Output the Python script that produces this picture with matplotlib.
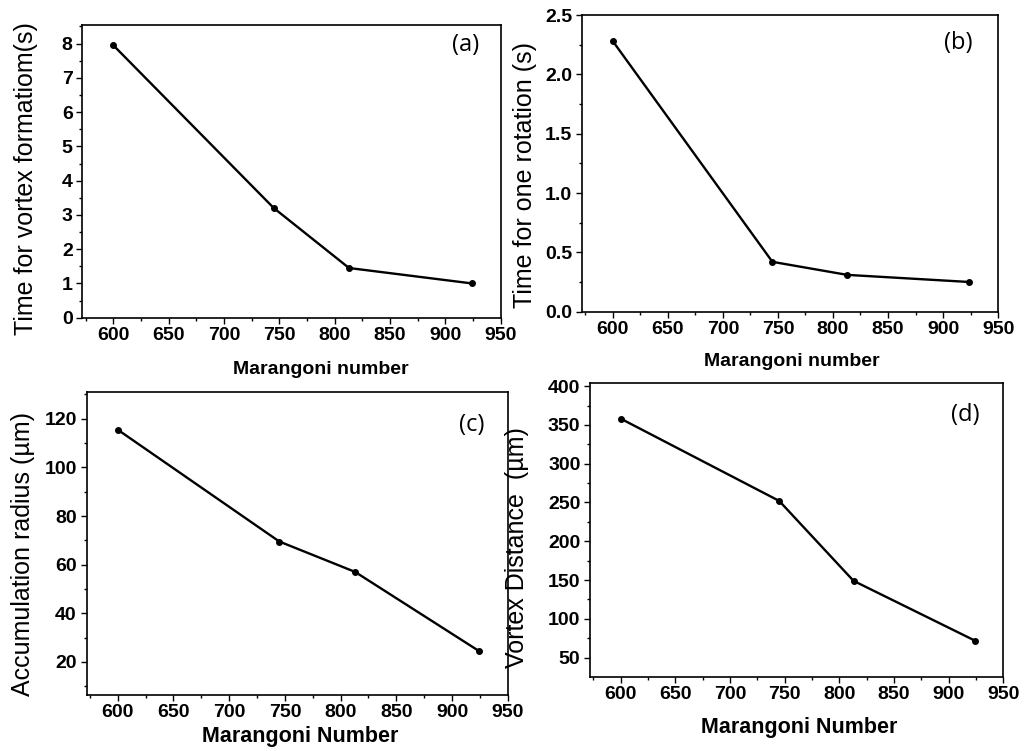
import matplotlib
matplotlib.use('Agg')
import matplotlib.pyplot as plt
from matplotlib.ticker import MultipleLocator, AutoMinorLocator

# Marangoni numbers (shared x values)
marangoni = [600, 745, 813, 924]

# (a) time for vortex formation (s)
t_vortex = [7.95, 3.2, 1.45, 1.0]
# (b) time for one rotation (s)
t_rotation = [2.28, 0.42, 0.31, 0.25]
# (c) accumulation radius (um)
acc_radius = [115.5, 69.5, 57.0, 24.5]
# (d) vortex distance (um)
vortex_dist = [358, 252, 149, 72]

plt.rcParams['font.family'] = ['Liberation Sans', 'DejaVu Sans']

fig = plt.figure(figsize=(10.3, 7.51), dpi=100)

panels = [
    dict(rect=[0.080, 0.577, 0.406, 0.390], y=t_vortex, ylim=(0, 8.55), ystep=1, fmt='{:.0f}',
         ylabel='Time for vortex formatiom(s)', xlabel='Marangoni number', tag='(a)',
         tagpos=(0.916, 0.93), xfs=14, xlpos=(0.569, -0.177), ylpos=(-0.136, 0.474)),
    dict(rect=[0.565, 0.585, 0.404, 0.395], y=t_rotation, ylim=(0, 2.5), ystep=0.5, fmt='{:.1f}',
         ylabel='Time for one rotation (s)', xlabel='Marangoni number', tag='(b)',
         tagpos=(0.904, 0.906), xfs=14, xlpos=(0.505, -0.168), ylpos=(-0.137, 0.461)),
    dict(rect=[0.084, 0.075, 0.409, 0.403], y=acc_radius, ylim=(6.5, 131), ystep=20, fmt='{:.0f}',
         ylabel='Accumulation radius (\u00b5m)', xlabel='Marangoni Number', tag='(c)',
         tagpos=(0.914, 0.89), xfs=15.5, xlpos=(0.507, -0.139), ylpos=(-0.150, 0.465)),
    dict(rect=[0.573, 0.099, 0.401, 0.391], y=vortex_dist, ylim=(25.5, 404), ystep=50, fmt='{:.0f}',
         ylabel='Vortex Distance  (\u00b5m)', xlabel='Marangoni Number', tag='(d)',
         tagpos=(0.908, 0.89), xfs=15.5, xlpos=(0.505, -0.173), ylpos=(-0.177, 0.439)),
]

for p in panels:
    ax = fig.add_axes(p['rect'])
    ax.plot(marangoni, p['y'], color='black', lw=1.7, marker='o', ms=4)
    ax.set_xlim(572, 950)
    ax.set_ylim(*p['ylim'])
    ax.xaxis.set_major_locator(MultipleLocator(50))
    ax.yaxis.set_major_locator(MultipleLocator(p['ystep']))
    ax.xaxis.set_minor_locator(AutoMinorLocator(2))
    ax.yaxis.set_minor_locator(AutoMinorLocator(2))
    ax.yaxis.set_major_formatter(plt.FuncFormatter(lambda v, pos, f=p['fmt']: f.format(v)))
    ax.tick_params(which='both', direction='out', top=False, right=False, width=1.0)
    ax.tick_params(which='major', length=4, labelsize=14, pad=3)
    ax.tick_params(which='minor', length=2)
    for lab in ax.get_xticklabels() + ax.get_yticklabels():
        lab.set_fontweight('bold')
    for s in ax.spines.values():
        s.set_linewidth(1.2)
    ax.set_ylabel(p['ylabel'], fontsize=18, va='center')
    ax.yaxis.set_label_coords(*p['ylpos'])
    ax.set_xlabel(p['xlabel'], fontsize=p['xfs'], fontweight='bold', va='center')
    ax.xaxis.set_label_coords(*p['xlpos'])
    ax.text(p['tagpos'][0], p['tagpos'][1], p['tag'], transform=ax.transAxes,
            fontsize=17, family='Open Sans', ha='center', va='center')

fig.savefig('out.png', dpi=100)
